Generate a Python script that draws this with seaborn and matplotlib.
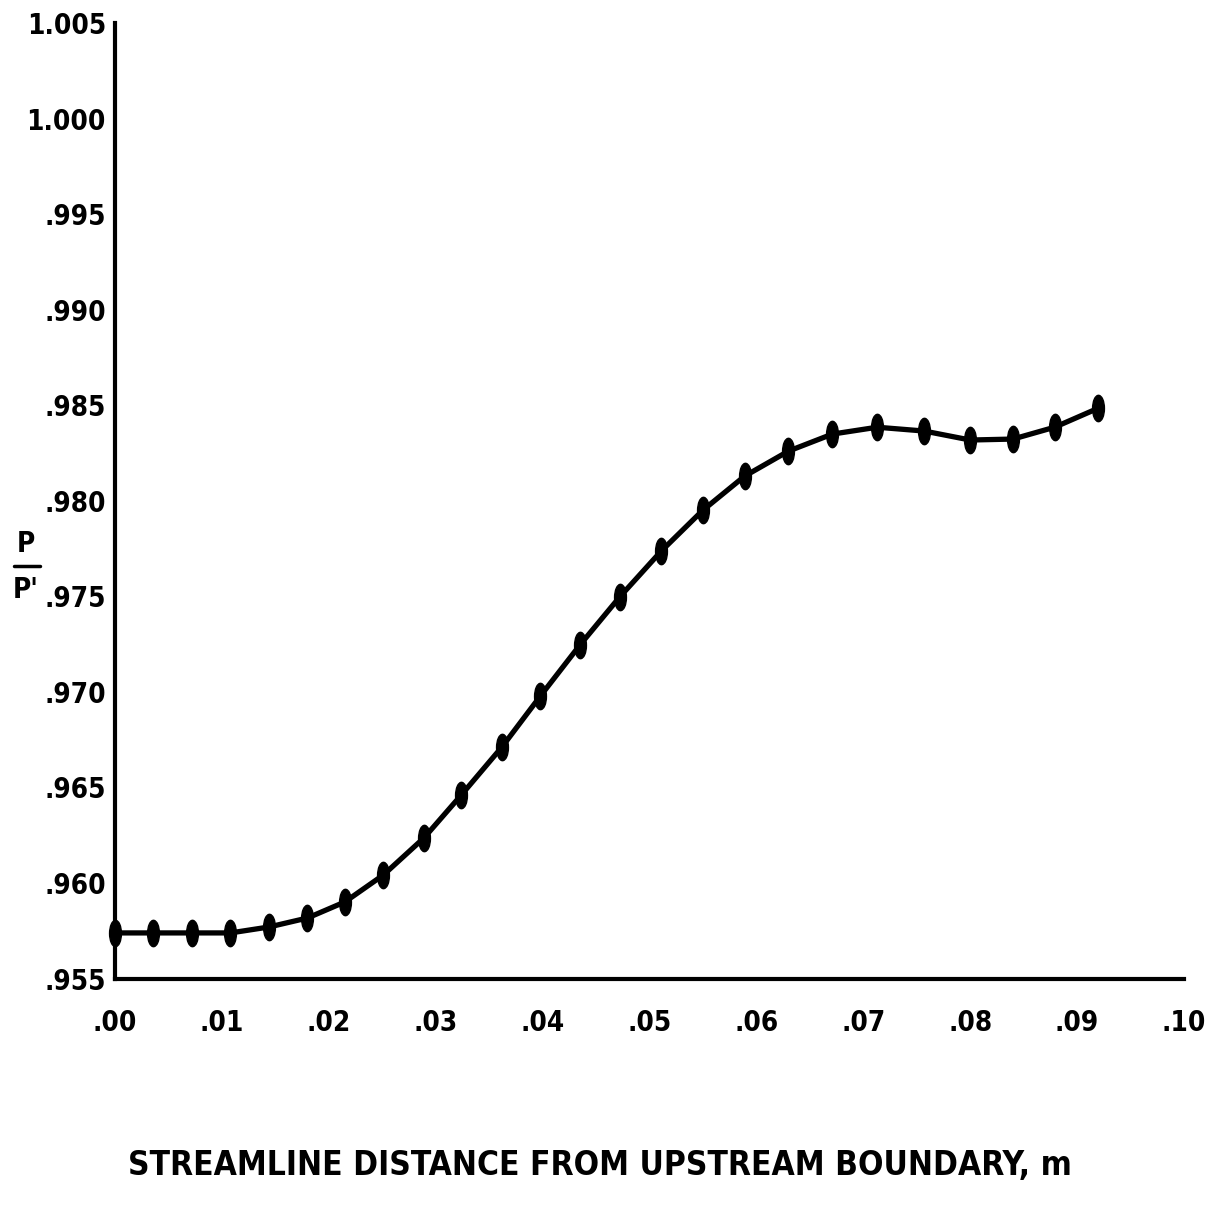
import numpy as np
import pandas as pd
import matplotlib
matplotlib.use("Agg")
import matplotlib.pyplot as plt
import seaborn as sns
from matplotlib.path import Path
from matplotlib.transforms import Affine2D
from matplotlib.lines import Line2D

# ---- data ----
distance_m = [0.0000, 0.0036, 0.0072, 0.0108, 0.0144, 0.0180, 0.0215, 0.0251,
              0.0289, 0.0324, 0.0362, 0.0398, 0.0435, 0.0472, 0.0511, 0.0550,
              0.0589, 0.0630, 0.0671, 0.0713, 0.0757, 0.0800, 0.0840, 0.0879,
              0.0920]
pressure_ratio = [0.95739, 0.95739, 0.95739, 0.95739, 0.95770, 0.95817, 0.95901,
                  0.96042, 0.96236, 0.96461, 0.96712, 0.96979, 0.97246, 0.97496,
                  0.97737, 0.97951, 0.98129, 0.98260, 0.98349, 0.98385, 0.98365,
                  0.98318, 0.98323, 0.98385, 0.98485]
x_ticks = [0.00, 0.01, 0.02, 0.03, 0.04, 0.05, 0.06, 0.07, 0.08, 0.09, 0.10]
x_tick_labels = [".00", ".01", ".02", ".03", ".04", ".05", ".06", ".07", ".08", ".09", ".10"]
y_ticks = [0.955, 0.960, 0.965, 0.970, 0.975, 0.980, 0.985, 0.990, 0.995, 1.000, 1.005]
y_tick_labels = [".955", ".960", ".965", ".970", ".975", ".980", ".985", ".990", ".995", "1.000", "1.005"]
x_label = "STREAMLINE DISTANCE FROM UPSTREAM BOUNDARY, m"

sns.set_style("white")
plt.rcParams['font.family'] = ['DejaVu Sans']
plt.rcParams['font.weight'] = 'bold'
plt.rcParams['font.stretch'] = 'condensed'
plt.rcParams['text.color'] = 'black'

W, H = 1213, 1223
fig = plt.figure(figsize=(W / 100, H / 100), dpi=100)
left, right = 115 / W, 1184 / W
bottom, top = 1 - 978.6 / H, 1 - 23 / H
ax = fig.add_axes([left, bottom, right - left, top - bottom])

df = pd.DataFrame({"x": distance_m, "y": pressure_ratio})
ellipse = Path.unit_circle().transformed(Affine2D().scale(0.45, 1.0))
sns.lineplot(data=df, x="x", y="y", ax=ax, color="black", linewidth=3.8,
             marker=ellipse, markersize=19, markerfacecolor="black",
             markeredgecolor="black", markeredgewidth=1.0, sort=False,
             estimator=None, clip_on=False)

ax.set_xlim(0.0, 0.10)
ax.set_ylim(0.955, 1.005)
ax.set_xticks(x_ticks)
ax.set_xticklabels(x_tick_labels)
ax.set_yticks(y_ticks)
ax.set_yticklabels(y_tick_labels)
ax.set_xlabel("")
ax.set_ylabel("")

for s in ["top", "right"]:
    ax.spines[s].set_visible(False)
for s in ["left", "bottom"]:
    ax.spines[s].set_linewidth(3.0)
    ax.spines[s].set_color("black")

ax.tick_params(axis="y", direction="inout", length=9, width=2.5, pad=2,
               labelsize=20, colors="black")
ax.tick_params(axis="x", direction="in", length=8, width=3.5, pad=22,
               labelsize=20, colors="black")
for lab in ax.get_xticklabels() + ax.get_yticklabels():
    lab.set_fontweight("bold")

fig.text(600 / W, 1 - 1165 / H, x_label, ha="center", va="center",
         fontsize=24, fontweight="bold", color="black")

# y-axis label: P over P'
fig.text(26 / W, 1 - 544 / H, "P", ha="center", va="center", fontsize=20,
         fontweight="bold", color="black")
fig.add_artist(Line2D([14 / W, 40 / W], [1 - 566 / H, 1 - 566 / H], color="black",
                      linewidth=2.5, transform=fig.transFigure))
fig.text(26 / W, 1 - 590 / H, "P'", ha="center", va="center", fontsize=20,
         fontweight="bold", color="black")

fig.savefig("out.png", dpi=100, facecolor="white")
